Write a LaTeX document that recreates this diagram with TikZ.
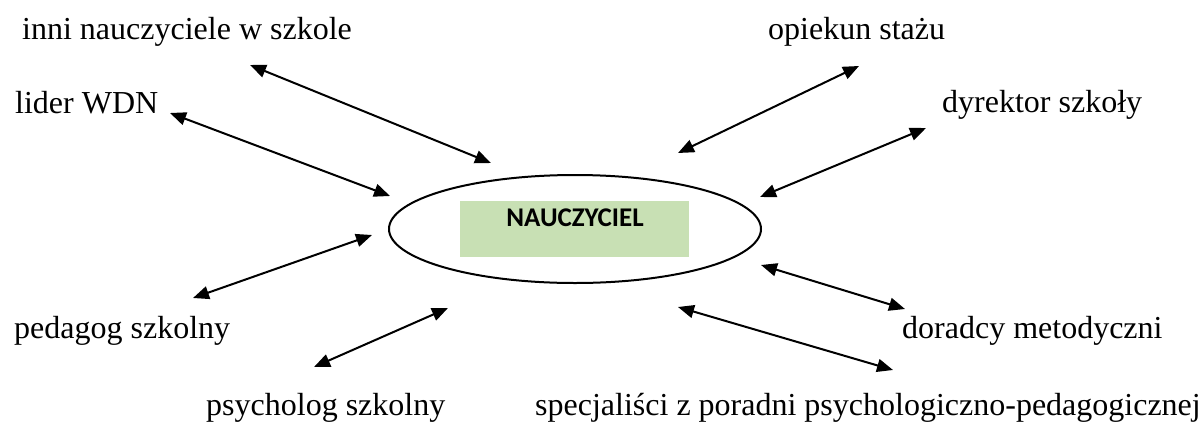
\documentclass[tikz,border=0pt]{standalone}
\usepackage{fontspec}
\setmainfont{Liberation Serif}
\newfontfamily\labelsans{Carlito}
\usetikzlibrary{arrows.meta,shapes.geometric}
\definecolor{boxgreen}{RGB}{200,224,180}
\begin{document}
\begin{tikzpicture}[x=1pt,y=-1pt,
  role/.style={anchor=base west, inner sep=0pt, font=\fontsize{32}{38}\selectfont},
  link/.style={line width=2pt,
    {Triangle[length=16pt,width=13pt]}-{Triangle[length=16pt,width=13pt]}}]
\useasboundingbox (0,0) rectangle (1200,421);

% central figure
\node[draw, ellipse, line width=2pt, minimum width=372pt, minimum height=108pt,
      inner sep=0pt] (teacher) at (575,229) {};
\node[fill=boxgreen, minimum width=229pt, minimum height=56pt, inner sep=0pt]
      (box) at (574.5,229) {};
\node[font=\labelsans\bfseries\fontsize{27}{32}\selectfont, inner sep=0pt]
      (title) at (575,218) {NAUCZYCIEL};

% partners
\node[role] (inni) at (22,39) {inni nauczyciele w szkole};
\node[role] (opiekun) at (768,39) {opiekun stażu};
\node[role] (lider) at (15,113) {lider WDN};
\node[role] (dyrektor) at (942,112) {dyrektor szkoły};
\node[role] (pedagog) at (14,338) {pedagog szkolny};
\node[role] (doradcy) at (902,338) {doradcy metodyczni};
\node[role] (psycholog) at (206,415) {psycholog szkolny};
\node[role] (specjal) at (535,415) {specjaliści z poradni psychologiczno-pedagogicznej};

% arrow ends
\coordinate (inniA) at (250,65);     \coordinate (inniB) at (491,163);
\coordinate (liderA) at (170,113);   \coordinate (liderB) at (390,196);
\coordinate (opiekunA) at (859,66);  \coordinate (opiekunB) at (678,153);
\coordinate (dyrA) at (926,128);     \coordinate (dyrB) at (760,197);
\coordinate (pedA) at (193,298);     \coordinate (pedB) at (372,235);
\coordinate (psyA) at (314,367);     \coordinate (psyB) at (448,308);
\coordinate (dorA) at (905,309);     \coordinate (dorB) at (761,265);
\coordinate (specA) at (893,370);    \coordinate (specB) at (678,307);

\draw[link] (inniA) -- (inniB);
\draw[link] (liderA) -- (liderB);
\draw[link] (opiekunA) -- (opiekunB);
\draw[link] (dyrA) -- (dyrB);
\draw[link] (pedA) -- (pedB);
\draw[link] (psyA) -- (psyB);
\draw[link] (dorA) -- (dorB);
\draw[link] (specA) -- (specB);
\end{tikzpicture}
\end{document}
